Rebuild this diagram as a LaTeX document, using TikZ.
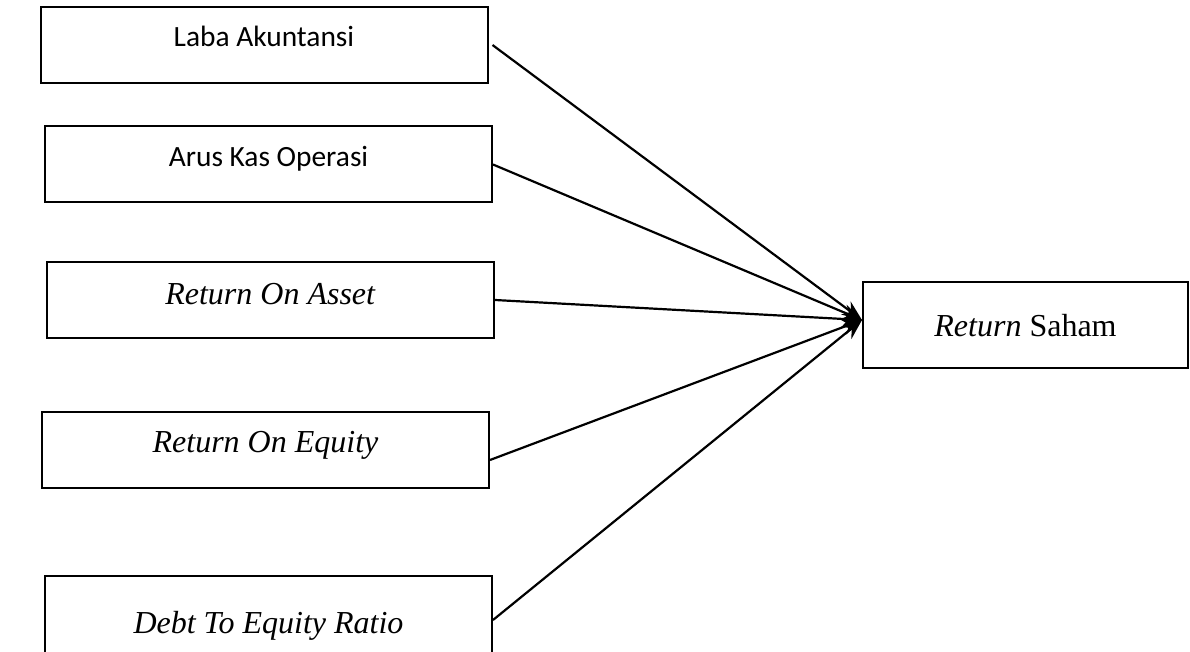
\documentclass[tikz,border=0pt]{standalone}
\usepackage{fontspec}
\setmainfont{Liberation Serif}
\newfontfamily\calibri{Carlito}
\usepackage{tikz}
\usetikzlibrary{arrows.meta}
\tikzstyle{var} = [rectangle, minimum width=223.5pt, minimum height=38pt, text centered, text height=9pt, text depth=7pt, draw=black, line width=1pt, fill=white, font=\fontsize{16pt}{19pt}\selectfont]
\tikzstyle{dep} = [rectangle, minimum width=162.5pt, minimum height=43pt, text centered, text height=14pt, text depth=2pt, draw=black, line width=1pt, fill=white, font=\fontsize{16pt}{19pt}\selectfont]
\tikzstyle{arrow} = [line width=1.1pt,->,>={Stealth[length=10pt,width=8pt]}]

\begin{document}
\begin{tikzpicture}[x=0.5pt,y=-0.5pt]
\useasboundingbox (0,0) rectangle (1190,652);

\node (x1) [var, font=\calibri\fontsize{14.7pt}{17pt}\selectfont] at (264,45) {Laba Akuntansi};
\node (x2) [var, font=\calibri\fontsize{14.7pt}{17pt}\selectfont] at (268.5,164.5) {Arus Kas Operasi};
\node (x3) [var, text height=10.5pt, text depth=5.5pt] at (270.5,300) {\textit{Return On Asset}};
\node (x4) [var] at (265.5,450) {\textit{Return On Equity}};
\node (x5) [var, minimum height=44pt, text height=14pt, text depth=1pt] at (268.5,620) {\textit{Debt To Equity Ratio}};
\node (ret) [dep] at (1025.5,325) {\textit{Return} Saham};
\coordinate (hub) at ([yshift=2.5pt]ret.west);

\draw [arrow] ([xshift=2pt]x1.east) -- (hub);
\draw [arrow] (x2.east) -- (hub);
\draw [arrow] (x3.east) -- (hub);
\draw [arrow] ([yshift=-5pt]x4.east) -- (hub);
\draw [arrow] (x5.east) -- (hub);
\end{tikzpicture}
\end{document}
